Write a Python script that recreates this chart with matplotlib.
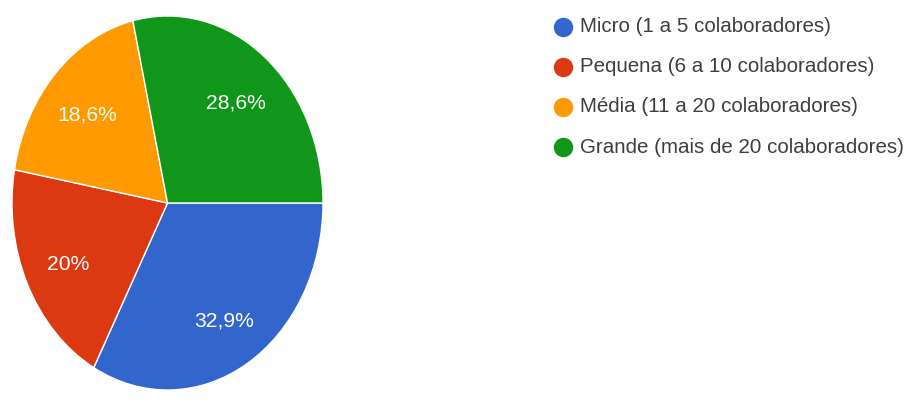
import matplotlib
matplotlib.use("Agg")
import matplotlib.pyplot as plt
import numpy as np

# Company size distribution
categories = [
    "Micro (1 a 5 colaboradores)",
    "Pequena (6 a 10 colaboradores)",
    "Média (11 a 20 colaboradores)",
    "Grande (mais de 20 colaboradores)",
]
shares = [32.9, 20.0, 18.6, 28.6]
colors = ["#3366CC", "#DC3912", "#FF9900", "#109618"]

plt.rcParams["font.family"] = ["Liberation Sans", "DejaVu Sans"]

W, H = 915, 405
fig = plt.figure(figsize=(W / 100, H / 100), dpi=100)
fig.patch.set_facecolor("white")


def fmt_pct(v):
    s = f"{v:.1f}".rstrip("0").rstrip(".")
    return s.replace(".", ",") + "%"


# Pie area (slightly taller than wide)
px_left, px_right, px_top, px_bottom = 12, 323, 16, 390
ax = fig.add_axes([px_left / W, 1 - px_bottom / H,
                   (px_right - px_left) / W, (px_bottom - px_top) / H])
wedges, texts = ax.pie(
    shares,
    colors=colors,
    startangle=0,
    counterclock=False,
    wedgeprops=dict(edgecolor="white", linewidth=1.0),
)
for w, v in zip(wedges, shares):
    ang = np.deg2rad((w.theta1 + w.theta2) / 2)
    d = 0.71
    ax.text(d * np.cos(ang), d * np.sin(ang) - 0.02, fmt_pct(v),
            ha="center", va="center", color="white", fontsize=15.2)
ax.set_aspect("auto")
ax.set_xlim(-1, 1)
ax.set_ylim(-1, 1)
ax.axis("off")

# Legend drawn in pixel units
lg = fig.add_axes([0, 0, 1, 1])
lg.set_xlim(0, W)
lg.set_ylim(H, 0)
lg.axis("off")
row_y0, row_step = 26.5, 40.2
for i, (lab, col) in enumerate(zip(categories, colors)):
    y = row_y0 + i * row_step
    lg.plot([563], [y], marker="o", markersize=14, color=col,
            markeredgewidth=0, linestyle="none")
    lg.text(580, y, lab, ha="left", va="center", color="#3d3d3d",
            fontsize=14.8)

fig.savefig("out.png", dpi=100, facecolor="white")
